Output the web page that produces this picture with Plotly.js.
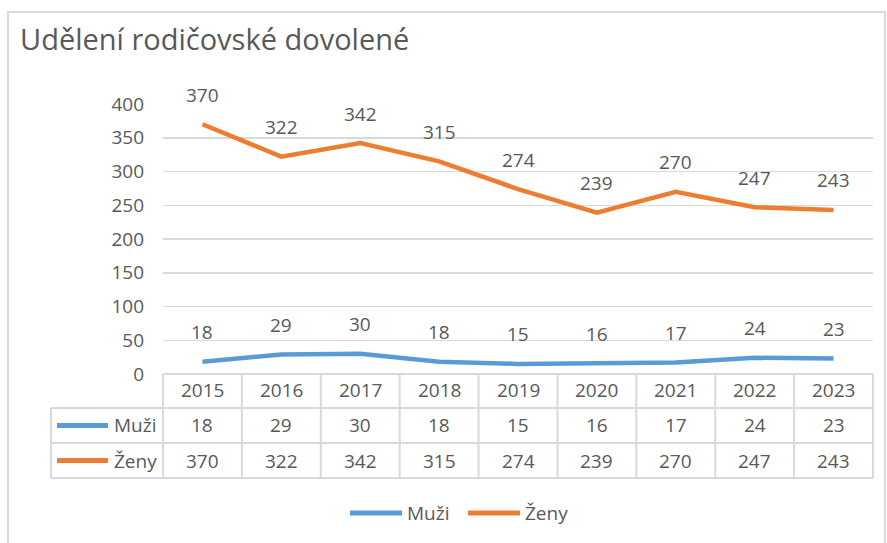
<!DOCTYPE html>
<html>
<head>
<meta charset="utf-8">
<script src="https://cdn.plot.ly/plotly-3.0.1.min.js"></script>
<style>html,body{margin:0;padding:0;background:#fff}#chart{width:887px;height:543px}</style>
</head>
<body>
<div id="chart"></div>
<script>
const titleText = 'Udělení rodičovské dovolené';
const years = ['2015','2016','2017','2018','2019','2020','2021','2022','2023'];
const seriesNames = ['Muži','Ženy'];
const muzi = [18,29,30,18,15,16,17,24,23];
const zeny = [370,322,342,315,274,239,270,247,243];
const yTicks = [0,50,100,150,200,250,300,350,400];

const colors = ['#5b9bd5','#ed7d31'];
const txt = '#595959';
const grid = '#d9d9d9';
const FONT = 'Open Sans, sans-serif';
const allSeries = [muzi, zeny];

const traces = allSeries.map((vals,k)=>({
  x: years, y: vals, type:'scatter', mode:'lines', name: seriesNames[k],
  line:{color:colors[k], width:4.5}, hoverinfo:'skip', showlegend:false
}));

const ann = [];
const shapes = [];
const lbl = (o)=>Object.assign({showarrow:false, xanchor:'center', yanchor:'middle', font:{family:FONT,size:19,color:txt}}, o);
// data labels (category index positions on the x axis)
allSeries.forEach((vals)=>{
  vals.forEach((v,i)=>{
    ann.push(lbl({x:i, y:v, xref:'x', yref:'y', text:String(v), yshift:29.5}));
  });
});
// table geometry (paper coords)
const rowTop = [0, -0.126, -0.2556, -0.385];
const rowMid = [-0.0593, -0.1907, -0.3204];
const leftX = -0.1577;
const bc = {color:grid, width:2};
shapes.push({type:'line', xref:'paper', yref:'paper', x0:0, x1:1, y0:rowTop[0], y1:rowTop[0], line:bc});
for (let r=1;r<4;r++) shapes.push({type:'line', xref:'paper', yref:'paper', x0:leftX, x1:1, y0:rowTop[r], y1:rowTop[r], line:bc});
shapes.push({type:'line', xref:'paper', yref:'paper', x0:0, x1:0, y0:rowTop[0], y1:rowTop[3], line:bc});
shapes.push({type:'line', xref:'paper', yref:'paper', x0:1, x1:1, y0:rowTop[0], y1:rowTop[3], line:bc});
shapes.push({type:'line', xref:'paper', yref:'paper', x0:leftX, x1:leftX, y0:rowTop[1], y1:rowTop[3], line:bc});
for (let i=1;i<years.length;i++) shapes.push({type:'line', xref:'x', yref:'paper', x0:i-0.5, x1:i-0.5, y0:rowTop[0], y1:rowTop[3], line:bc});
// header years
years.forEach((yr,i)=>ann.push(lbl({x:i, y:rowMid[0], xref:'x', yref:'paper', text:yr})));
// rows
allSeries.forEach((vals,k)=>{
  vals.forEach((v,i)=>ann.push(lbl({x:i, y:rowMid[k+1], xref:'x', yref:'paper', text:String(v)})));
  shapes.push({type:'line', xref:'paper', yref:'paper', x0:-0.1493, x1:-0.0775, y0:rowMid[k+1], y1:rowMid[k+1], line:{color:colors[k], width:5}});
  ann.push(lbl({x:-0.0718, y:rowMid[k+1], xref:'paper', yref:'paper', xanchor:'left', text:seriesNames[k]}));
});
// bottom legend
const legY = -0.5148;
const legX = [[0.2634,0.3366,0.3408],[0.4296,0.5028,0.507]];
seriesNames.forEach((n,k)=>{
  shapes.push({type:'line', xref:'paper', yref:'paper', x0:legX[k][0], x1:legX[k][1], y0:legY, y1:legY, line:{color:colors[k], width:5}});
  ann.push(lbl({x:legX[k][2], y:legY, xref:'paper', yref:'paper', xanchor:'left', text:n}));
});
// outer border
shapes.push({type:'rect', xref:'paper', yref:'paper', x0:-0.2183, x1:1.0169, y0:-0.66, y1:1.3407, line:{color:grid, width:2}, layer:'below'});
// title
ann.push(lbl({x:-0.2042, y:1.244, xref:'paper', yref:'paper', xanchor:'left', text:titleText, font:{family:FONT,size:29,color:txt}}));

const layout = {
  width:887, height:543,
  margin:{l:163, r:14, t:104, b:169},
  paper_bgcolor:'#fff', plot_bgcolor:'#fff',
  showlegend:false,
  xaxis:{type:'category', range:[-0.5, years.length-0.5], showticklabels:false, showgrid:false, zeroline:false, showline:false, ticks:''},
  yaxis:{range:[0,400], tickvals:yTicks, showgrid:true, gridcolor:grid, gridwidth:1.5, zeroline:false, showline:false, ticks:'', ticklabelstandoff:18,
    tickfont:{family:FONT,size:19,color:txt}},
  annotations: ann, shapes: shapes
};
Plotly.newPlot('chart', traces, layout, {displayModeBar:false, staticPlot:true});
</script>
</body>
</html>
